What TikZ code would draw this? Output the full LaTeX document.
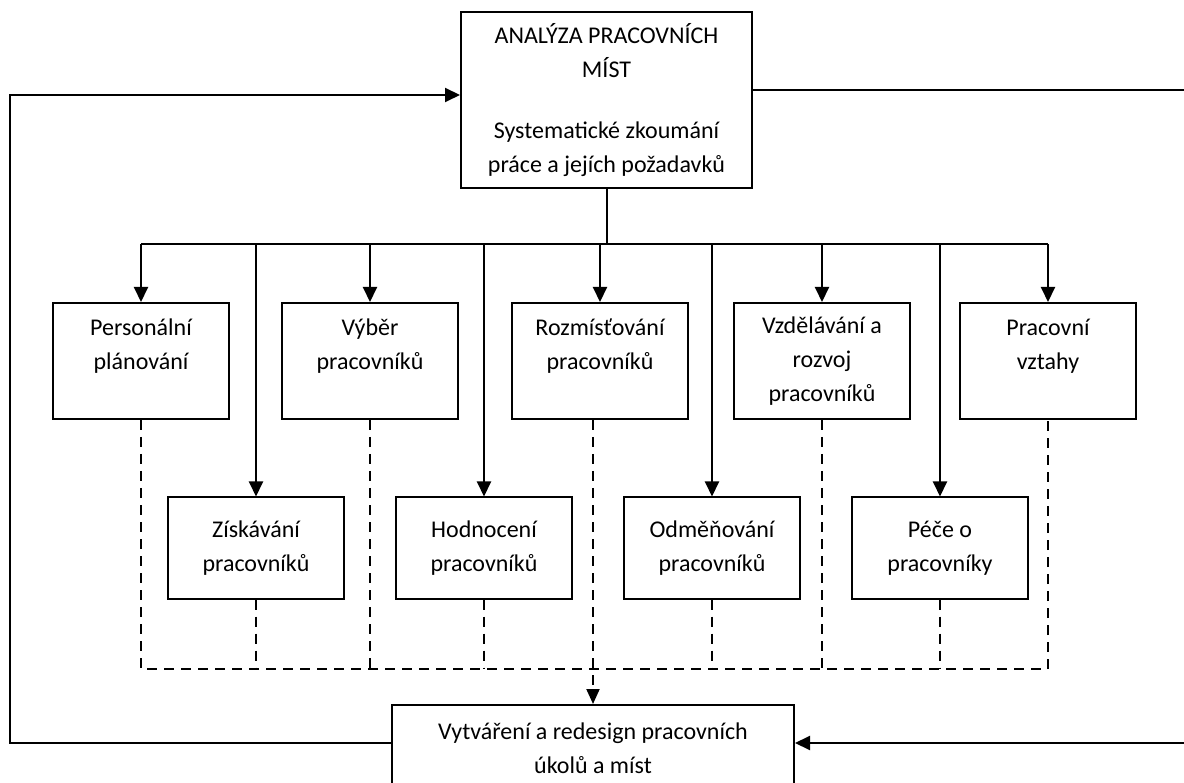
\documentclass[tikz,border=0pt]{standalone}
\usepackage{fontspec}
\setmainfont{Carlito}
\usetikzlibrary{arrows.meta}
\tikzset{
  box/.style={draw, line width=2pt, align=center, inner sep=0pt,
    font=\fontsize{24}{34}\selectfont, fill=white},
  rowbox/.style={box, minimum width=176pt, minimum height=116pt},
  lowbox/.style={box, minimum width=176pt, minimum height=101pt},
  conn/.style={line width=2pt},
  arr/.style={conn, -{Triangle[length=15pt,width=14pt]}},
  dconn/.style={line width=2pt, dash pattern=on 10pt off 7pt},
  darr/.style={dconn, -{Triangle[length=15pt,width=13pt]}}
}
\begin{document}
\begin{tikzpicture}[x=1pt,y=-1pt]
\useasboundingbox[fill=white] (0,0) rectangle (1184,783);

% nodes
\node[box, minimum width=291pt, minimum height=176pt] (top) at (606.5,100)
  {ANALÝZA PRACOVNÍCH\\MÍST\\[27pt]Systematické zkoumání\\práce a jejích požadavků};

\node[rowbox] (p1) at (141,361) {Personální\\plánování\\\mbox{}};
\node[rowbox] (p2) at (370,361) {Výběr\\pracovníků\\\mbox{}};
\node[rowbox] (p3) at (600,361) {Rozmísťování\\pracovníků\\\mbox{}};
\node[rowbox] (p4) at (822,361) {Vzdělávání a\\rozvoj\\pracovníků};
\node[rowbox] (p5) at (1048,361) {Pracovní\\vztahy\\\mbox{}};

\node[lowbox] (q1) at (256,548) {Získávání\\pracovníků};
\node[lowbox] (q2) at (484,548) {Hodnocení\\pracovníků};
\node[lowbox] (q3) at (712,548) {Odměňování\\pracovníků};
\node[lowbox] (q4) at (940,548) {Péče o\\pracovníky};

\node[box, minimum width=402pt, minimum height=86pt] (bot) at (593,748)
  {Vytváření a redesign pracovních\\úkolů a míst};

% helper coordinates
\coordinate (bus) at (0,244);
\coordinate (dbus) at (0,669);
\coordinate (L) at (10,0);
\coordinate (R) at (1184,0);
\coordinate (R1) at (1184,90);

% solid distribution tree
\draw[conn] (top.south) -- (top.south |- bus);
\draw[conn] (p1.north |- bus) -- (p5.north |- bus);
\foreach \n in {p1,p2,p3,p4,p5,q1,q2,q3,q4}
  \draw[arr] (\n.north |- bus) -- (\n.north);

% dashed collection
\draw[dconn] (p1.south) -- (p1.south |- dbus) -- (p5.south |- dbus) -- (p5.south);
\foreach \n in {p2,p4,q1,q2,q3,q4}
  \draw[dconn] (\n.south) -- (\n.south |- dbus);
\draw[darr] ([xshift=-7pt]p3.south) -- ([xshift=-7pt]p3.south |- bot.north);

% feedback loops
\draw[arr] ([yshift=5pt]bot.west) -- ([yshift=5pt]bot.west -| L) -- ([yshift=5pt]L |- top.west) -- ([yshift=5pt]top.west);
\draw[conn] ([yshift=10pt]top.east) -- (R1);
\draw[arr] ([yshift=5pt]bot.east -| R) -- ([yshift=5pt]bot.east);
\end{tikzpicture}
\end{document}
